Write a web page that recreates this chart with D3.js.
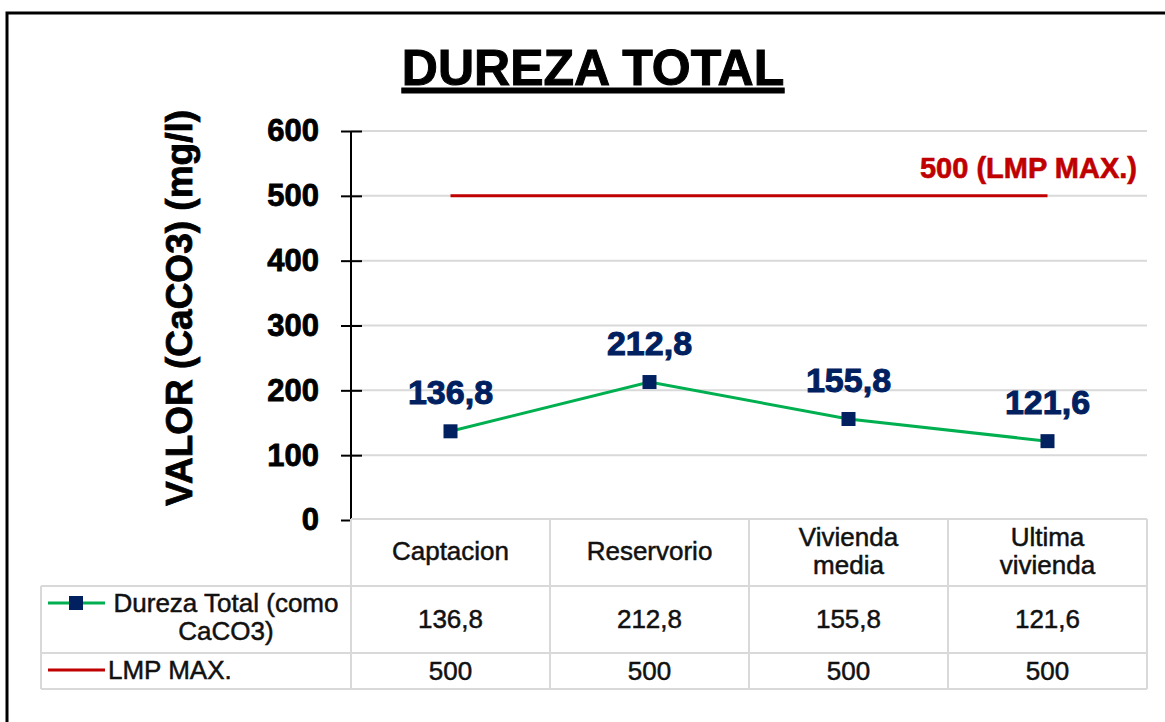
<!DOCTYPE html>
<html>
<head>
<meta charset="utf-8">
<script src="https://cdn.jsdelivr.net/npm/d3@7"></script>
<style>
  body { margin: 0; background: #fff; }
  svg text { font-family: "Liberation Sans", Arial, sans-serif; }
</style>
</head>
<body>
<div id="chart"></div>
<script>
// data
const categories = ["Captacion", "Reservorio", "Vivienda media", "Ultima vivienda"];
const categoryLines = [["Captacion"], ["Reservorio"], ["Vivienda", "media"], ["Ultima", "vivienda"]];
const durezaValues = [136.8, 212.8, 155.8, 121.6];
const lmpValues = [500, 500, 500, 500];
const yTicks = [0, 100, 200, 300, 400, 500, 600];

const W = 1165, H = 722;
const fmt = v => String(v).replace(".", ",");

const svg = d3.select("#chart").append("svg")
  .attr("width", W).attr("height", H);

// outer frame
svg.append("rect")
  .attr("x", 7).attr("y", 13).attr("width", 1180).attr("height", 740)
  .attr("fill", "none").attr("stroke", "#000").attr("stroke-width", 3);

// title
svg.append("text")
  .attr("x", 593).attr("y", 85)
  .attr("text-anchor", "middle")
  .attr("stroke", "#000").attr("stroke-width", 1)
  .style("font-size", "50px").style("font-weight", "bold")
  .style("text-decoration", "underline")
  .text("DUREZA TOTAL");

// scales
const plotLeft = 351, plotRight = 1147, plotTop = 131, plotBottom = 520;
const x = d3.scaleBand().domain(categories).range([plotLeft, plotRight]);
const cx = d => x(d) + x.bandwidth() / 2;
const y = d3.scaleLinear().domain([0, 600]).range([plotBottom, plotTop]);

// gridlines
svg.append("g").selectAll("line")
  .data(yTicks.filter(t => t > 0))
  .enter().append("line")
  .attr("x1", plotLeft).attr("x2", plotRight)
  .attr("y1", d => y(d)).attr("y2", d => y(d))
  .attr("stroke", "#d9d9d9").attr("stroke-width", 2);

// y axis
const yAxis = d3.axisLeft(y).tickValues(yTicks).tickSize(10).tickPadding(22);
const gy = svg.append("g")
  .attr("transform", `translate(${plotLeft},0)`)
  .call(yAxis);
gy.select(".domain").attr("stroke", "#000").attr("stroke-width", 2).attr("d", `M0,${plotTop}V${plotBottom}`);
gy.selectAll(".tick line").attr("stroke", "#000").attr("stroke-width", 2);
gy.selectAll(".tick text")
  .attr("fill", "#000").attr("stroke", "#000").attr("stroke-width", 0.8)
  .style("font-size", "31px").style("font-weight", "bold")
  .style("font-family", "'Liberation Sans', Arial, sans-serif");
// ticks cross the axis
gy.selectAll(".tick").filter(d => d > 0).append("line")
  .attr("x1", 0).attr("x2", 11)
  .attr("stroke", "#000").attr("stroke-width", 2);

// y axis title
svg.append("text")
  .attr("transform", "translate(192,308) rotate(-90)")
  .attr("text-anchor", "middle")
  .attr("stroke", "#000").attr("stroke-width", 0.8)
  .style("font-size", "37px").style("font-weight", "bold")
  .text("VALOR (CaCO3) (mg/l)");

// LMP line
svg.append("path")
  .datum(lmpValues)
  .attr("fill", "none").attr("stroke", "#c00000").attr("stroke-width", 3)
  .attr("d", d3.line().x((d, i) => cx(categories[i])).y(d => y(d)));

svg.append("text")
  .attr("x", 1137).attr("y", y(lmpValues[3]) - 18)
  .attr("text-anchor", "end")
  .attr("fill", "#c00000").attr("stroke", "#c00000").attr("stroke-width", 0.6)
  .style("font-size", "29px").style("font-weight", "bold")
  .text("500 (LMP MAX.)");

// dureza line
svg.append("path")
  .datum(durezaValues)
  .attr("fill", "none").attr("stroke", "#00b050").attr("stroke-width", 3)
  .attr("d", d3.line().x((d, i) => cx(categories[i])).y(d => y(d)));

const ms = 14;
svg.append("g").selectAll("rect")
  .data(durezaValues)
  .enter().append("rect")
  .attr("x", (d, i) => cx(categories[i]) - ms / 2)
  .attr("y", d => y(d) - ms / 2)
  .attr("width", ms).attr("height", ms)
  .attr("fill", "#002060");

svg.append("g").selectAll("text")
  .data(durezaValues)
  .enter().append("text")
  .attr("x", (d, i) => cx(categories[i]))
  .attr("y", d => y(d) - 27)
  .attr("text-anchor", "middle")
  .attr("fill", "#002060").attr("stroke", "#002060").attr("stroke-width", 1)
  .style("font-size", "34px").style("font-weight", "bold")
  .text(d => fmt(d));

// data table
const tLeft = 41, rowTop = 519, row1 = 586, row2 = 653, tBottom = 689;
const grid = svg.append("g").attr("stroke", "#d9d9d9").attr("stroke-width", 2);
grid.append("line").attr("x1", plotLeft).attr("x2", plotRight).attr("y1", rowTop).attr("y2", rowTop);
[row1, row2, tBottom].forEach(yy => {
  grid.append("line").attr("x1", tLeft).attr("x2", plotRight).attr("y1", yy).attr("y2", yy);
});
grid.append("line").attr("x1", tLeft).attr("x2", tLeft).attr("y1", row1).attr("y2", tBottom);
[plotLeft].concat(categories.map(c => x(c) + x.bandwidth())).forEach(xx => {
  grid.append("line").attr("x1", xx).attr("x2", xx).attr("y1", rowTop).attr("y2", tBottom);
});

const cellFont = "26px";
const cellText = sel => sel
  .attr("fill", "#111").attr("stroke", "#111").attr("stroke-width", 0.5)
  .style("font-size", cellFont);

const header = svg.append("g").selectAll("text")
  .data(categoryLines)
  .enter().append("text")
  .attr("x", (d, i) => cx(categories[i]))
  .attr("text-anchor", "middle")
  .call(cellText);
header.each(function (lines) {
  const t = d3.select(this);
  const base = lines.length === 1 ? 560 : 546;
  lines.forEach((ln, j) => {
    t.append("tspan").attr("x", t.attr("x")).attr("y", base + j * 28).text(ln);
  });
});

svg.append("g").selectAll("text")
  .data(durezaValues)
  .enter().append("text")
  .attr("x", (d, i) => cx(categories[i]))
  .attr("y", 628)
  .attr("text-anchor", "middle")
  .call(cellText)
  .text(d => fmt(d));

svg.append("g").selectAll("text")
  .data(lmpValues)
  .enter().append("text")
  .attr("x", (d, i) => cx(categories[i]))
  .attr("y", 680)
  .attr("text-anchor", "middle")
  .call(cellText)
  .text(d => fmt(d));

// legend keys in the table
svg.append("line").attr("x1", 48).attr("x2", 105).attr("y1", 603).attr("y2", 603)
  .attr("stroke", "#00b050").attr("stroke-width", 3);
svg.append("rect").attr("x", 76 - ms / 2).attr("y", 603 - ms / 2)
  .attr("width", ms).attr("height", ms).attr("fill", "#002060");
const legText = svg.append("text").attr("text-anchor", "middle").call(cellText);
legText.append("tspan").attr("x", 226).attr("y", 612).text("Dureza Total (como");
legText.append("tspan").attr("x", 226).attr("y", 640).text("CaCO3)");

svg.append("line").attr("x1", 48).attr("x2", 105).attr("y1", 670).attr("y2", 670)
  .attr("stroke", "#c00000").attr("stroke-width", 3);
svg.append("text").attr("x", 108).attr("y", 679).call(cellText)
  .text("LMP MAX.");
</script>
</body>
</html>
